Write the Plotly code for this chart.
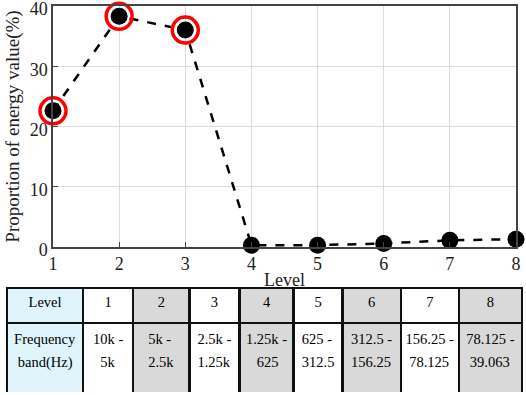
import plotly.graph_objects as go

levels = [1, 2, 3, 4, 5, 6, 7, 8]
energy = [22.6, 38.3, 36.0, 0.3, 0.3, 0.6, 1.1, 1.3]
highlight_levels = [1, 2, 3]
highlight_energy = [22.6, 38.3, 36.0]
y_ticks = [0, 10, 20, 30, 40]

table_header = ["Level", "1", "2", "3", "4", "5", "6", "7", "8"]
band_line1 = ["Frequency", "10k -", "5k -", "2.5k -", "1.25k -", "625 -", "312.5 -", "156.25 -", "78.125 -"]
band_line2 = ["band(Hz)", "5k", "2.5k", "1.25k", "625", "312.5", "156.25", "78.125", "39.063"]
col_widths = [76, 50, 56, 50, 54, 49, 58, 58, 63]
col_fill = ["#dff4fb", "white", "#d9d9d9", "white", "#d9d9d9", "white", "#d9d9d9", "white", "#d9d9d9"]

W, H = 526, 395
font = "Liberation Serif"
TXT = '<span style="font-size:14.5px">{}</span>'

# approximate Times-metric character widths (em) used to centre each line of a two-line cell
_cw = {d: 0.5 for d in "0123456789"}
_cw.update({" ": 0.25, "-": 0.333, ".": 0.25, "k": 0.5, "F": 0.556, "r": 0.333, "e": 0.444,
            "q": 0.5, "u": 0.5, "n": 0.5, "c": 0.444, "y": 0.5, "b": 0.5, "a": 0.444,
            "d": 0.5, "(": 0.333, ")": 0.333, "H": 0.722, "z": 0.444})


def _w(s):
    return sum(_cw.get(ch, 0.5) for ch in s)


def centred(a, b):
    wa, wb = _w(a), _w(b)
    pad = round(abs(wa - wb) / 2 / 0.25)
    if wa > wb:
        b = "&nbsp;" * pad + b
    else:
        a = "&nbsp;" * pad + a
    return TXT.format(a) + "<br>" + TXT.format(b)


table_bands = [centred(a, b) for a, b in zip(band_line1, band_line2)]

fig = go.Figure()
fig.add_trace(go.Scatter(
    x=levels, y=energy, mode="lines+markers",
    line=dict(color="black", width=2.5, dash="dash"),
    marker=dict(color="black", size=17),
    cliponaxis=False, showlegend=False, xaxis="x", yaxis="y"))
fig.add_trace(go.Scatter(
    x=highlight_levels, y=highlight_energy, mode="markers",
    marker=dict(symbol="circle-open", color="red", size=26, line=dict(width=3.5, color="red")),
    cliponaxis=False, showlegend=False, xaxis="x", yaxis="y"))

fig.add_trace(go.Table(
    domain=dict(x=[7 / W, 522 / W], y=[1 - 393 / H, 1 - 288 / H]),
    columnwidth=col_widths,
    header=dict(values=table_header, height=35,
                fill_color=col_fill, line=dict(color="#111", width=2.5),
                font=dict(family=font, size=14.5, color="black"), align="center"),
    cells=dict(values=[[b] for b in table_bands], height=70,
               fill_color=col_fill, line=dict(color="#111", width=2.5),
               font=dict(family=font, size=18, color="black"), align="center"),
))

fig.update_layout(
    width=W, height=H, margin=dict(l=0, r=0, t=0, b=0, autoexpand=False),
    paper_bgcolor="white", plot_bgcolor="white",
    font=dict(family=font, color="#222"),
    xaxis=dict(domain=[53 / W, 516 / W], range=[1, 8], tickvals=levels, automargin=False,
               showgrid=True, gridcolor="#dcdcdc", gridwidth=1,
               showline=True, linecolor="#444", linewidth=1.5, mirror=True,
               ticks="inside", ticklen=5, tickcolor="#444", zeroline=False, tickfont=dict(size=18),
               ticklabeloverflow="allow",
               title=dict(text="Level", font=dict(size=18), standoff=0)),
    yaxis=dict(domain=[1 - 247 / H, 1 - 6 / H], range=[0, 40], tickvals=y_ticks, automargin=False,
               showgrid=True, gridcolor="#dcdcdc", gridwidth=1,
               showline=True, linecolor="#444", linewidth=1.5, mirror=True,
               ticks="inside", ticklen=5, tickcolor="#444", zeroline=False, tickfont=dict(size=18),
               ticklabeloverflow="allow", ticklabelshift=3,
               title=dict(text="Proportion of energy value(%)", font=dict(size=19), standoff=5)),
)

fig.write_html("out.html", config={"responsive": False, "displayModeBar": False},
               post_script="document.body.style.margin='0';document.body.style.padding='0';")
